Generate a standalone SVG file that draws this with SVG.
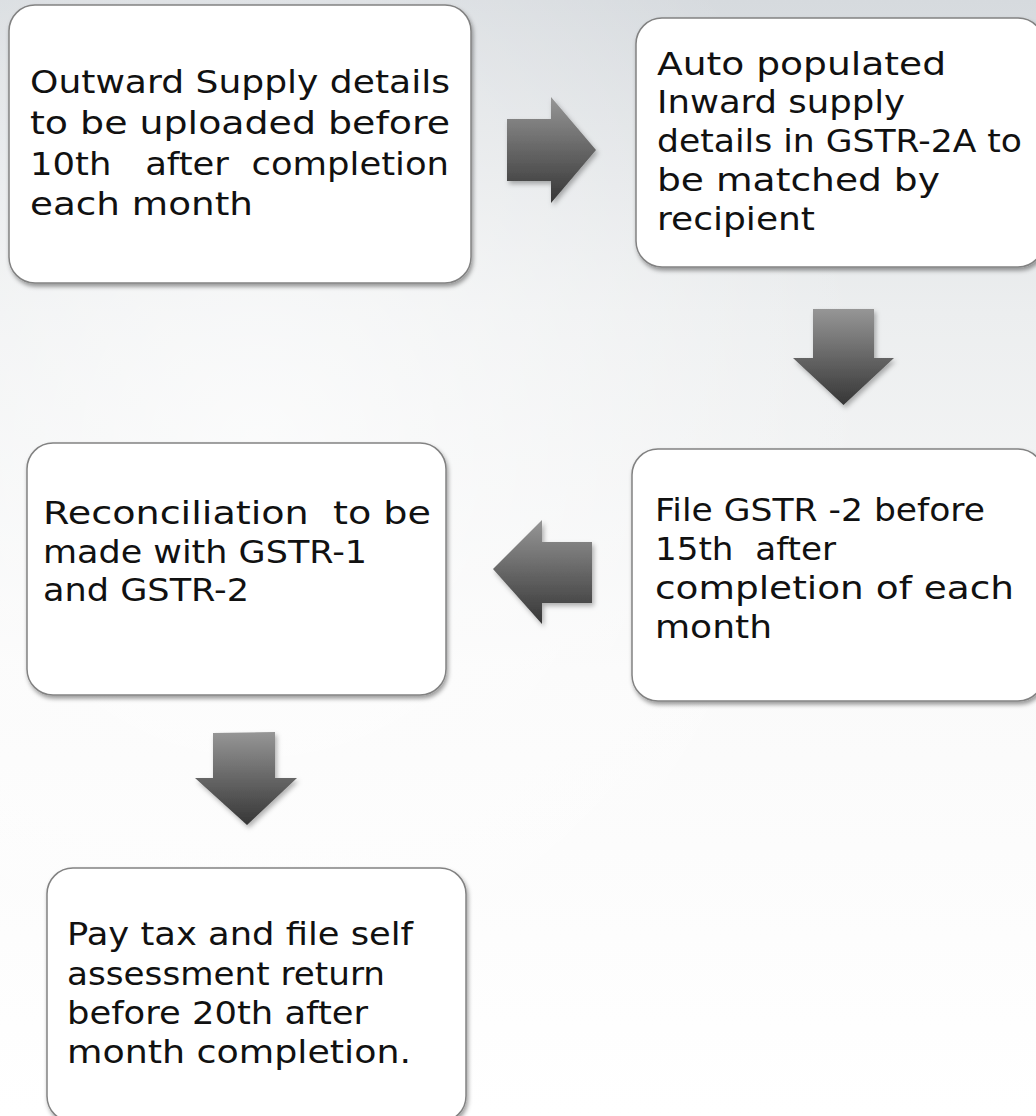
<svg xmlns="http://www.w3.org/2000/svg" width="1036" height="1116" viewBox="0 0 1036 1116">
  <defs>
    <linearGradient id="bg" x1="0" y1="0" x2="0" y2="1">
      <stop offset="0" stop-color="#d6dade"/>
      <stop offset="0.28" stop-color="#eceeef"/>
      <stop offset="0.6" stop-color="#fafafa"/>
      <stop offset="1" stop-color="#ffffff"/>
    </linearGradient>
    <radialGradient id="glow" cx="0.25" cy="0.4" r="0.6">
      <stop offset="0" stop-color="#ffffff" stop-opacity="0.7"/>
      <stop offset="1" stop-color="#ffffff" stop-opacity="0"/>
    </radialGradient>
    <linearGradient id="arrowFill" x1="0" y1="0" x2="0" y2="1">
      <stop offset="0" stop-color="#969696"/>
      <stop offset="1" stop-color="#363636"/>
    </linearGradient>
    <filter id="boxShadow" x="-5%" y="-5%" width="112%" height="115%">
      <feDropShadow dx="1.5" dy="3" stdDeviation="2.2" flood-color="#000" flood-opacity="0.38"/>
    </filter>
    <filter id="arrowShadow" x="-15%" y="-15%" width="135%" height="135%">
      <feDropShadow dx="2" dy="3" stdDeviation="2.5" flood-color="#000" flood-opacity="0.3"/>
    </filter>
  </defs>
  <style>
    .box { fill: #ffffff; stroke: #828282; stroke-width: 1.5; filter: url(#boxShadow); }
    .lbl { font-family: "DejaVu Sans", "Liberation Sans", sans-serif; font-size: 32px; fill: #111111; white-space: pre; }
    .arrow { fill: url(#arrowFill); filter: url(#arrowShadow); }
  </style>

  <!-- page background -->
  <rect x="0" y="0" width="1036" height="1116" fill="url(#bg)"/>
  <rect x="0" y="0" width="1036" height="1116" fill="url(#glow)"/>

  <!-- block arrows between steps -->
  <g id="connectors">
    <path class="arrow" d="M507,119 L551,119 L551,97 L596,150 L551,203 L551,181 L507,181 Z"/>
    <path class="arrow" d="M813,309 L874,309 L874,358 L894,358 L843.5,405 L793,358 L813,358 Z"/>
    <path class="arrow" d="M592,542 L592,603 L542,603 L542,624 L493,569 L542,520 L542,542 Z"/>
    <path class="arrow" d="M213,733 L275,732 L275,778 L297,778 L247,825 L195,778 L213,778 Z"/>
  </g>

  <g id="step-outward">
    <rect class="box" x="9" y="5" width="462" height="278" rx="26" ry="26"/>
    <text class="lbl" xml:space="preserve">
      <tspan x="30" y="93" textLength="420" lengthAdjust="spacingAndGlyphs">Outward Supply details</tspan>
      <tspan x="30" y="134" textLength="420" lengthAdjust="spacingAndGlyphs">to be uploaded before</tspan>
      <tspan x="30" y="175" textLength="419" lengthAdjust="spacingAndGlyphs">10th   after  completion</tspan>
      <tspan x="30" y="215" textLength="223" lengthAdjust="spacingAndGlyphs">each month</tspan>
    </text>
  </g>

  <g id="step-inward">
    <rect class="box" x="636" y="18" width="408" height="249" rx="26" ry="26"/>
    <text class="lbl" xml:space="preserve">
      <tspan x="657" y="75" textLength="289" lengthAdjust="spacingAndGlyphs">Auto populated</tspan>
      <tspan x="657" y="113" textLength="248" lengthAdjust="spacingAndGlyphs">Inward supply</tspan>
      <tspan x="657" y="152" textLength="365" lengthAdjust="spacingAndGlyphs">details in GSTR-2A to</tspan>
      <tspan x="657" y="191" textLength="283" lengthAdjust="spacingAndGlyphs">be matched by</tspan>
      <tspan x="657" y="230" textLength="158" lengthAdjust="spacingAndGlyphs">recipient</tspan>
    </text>
  </g>

  <g id="step-file-gstr2">
    <rect class="box" x="632" y="449" width="412" height="252" rx="26" ry="26"/>
    <text class="lbl" xml:space="preserve">
      <tspan x="655" y="521" textLength="330" lengthAdjust="spacingAndGlyphs">File GSTR -2 before</tspan>
      <tspan x="655" y="560" textLength="181" lengthAdjust="spacingAndGlyphs">15th  after</tspan>
      <tspan x="655" y="599" textLength="359" lengthAdjust="spacingAndGlyphs">completion of each</tspan>
      <tspan x="655" y="638" textLength="117" lengthAdjust="spacingAndGlyphs">month</tspan>
    </text>
  </g>

  <g id="step-reconcile">
    <rect class="box" x="27" y="443" width="419" height="252" rx="26" ry="26"/>
    <text class="lbl" xml:space="preserve">
      <tspan x="43" y="524" textLength="388" lengthAdjust="spacingAndGlyphs">Reconciliation  to be</tspan>
      <tspan x="43" y="563" textLength="324" lengthAdjust="spacingAndGlyphs">made with GSTR-1</tspan>
      <tspan x="43" y="601" textLength="206" lengthAdjust="spacingAndGlyphs">and GSTR-2</tspan>
    </text>
  </g>

  <g id="step-pay-tax">
    <rect class="box" x="47" y="868" width="419" height="254" rx="26" ry="26"/>
    <text class="lbl" xml:space="preserve">
      <tspan x="67" y="945" textLength="346" lengthAdjust="spacingAndGlyphs">Pay tax and file self</tspan>
      <tspan x="67" y="985" textLength="318" lengthAdjust="spacingAndGlyphs">assessment return</tspan>
      <tspan x="67" y="1024" textLength="301" lengthAdjust="spacingAndGlyphs">before 20th after</tspan>
      <tspan x="67" y="1063" textLength="344" lengthAdjust="spacingAndGlyphs">month completion.</tspan>
    </text>
  </g>
</svg>
